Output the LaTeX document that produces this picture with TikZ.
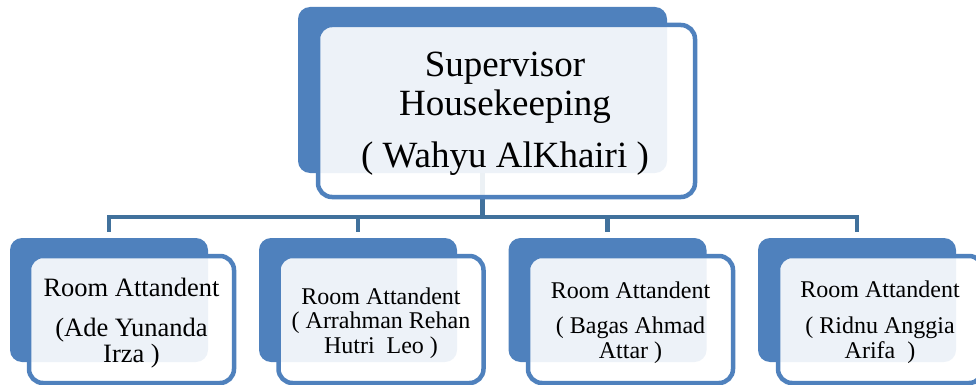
\documentclass[tikz,border=0pt]{standalone}
\usepackage{fontspec}
\setmainfont{Liberation Serif}
\definecolor{boxblue}{HTML}{4F81BD}
\definecolor{linkblue}{HTML}{41719C}
\tikzset{
    backbox/.style={fill=boxblue, rounded corners=12pt, inner sep=0pt},
    frontbox/.style={draw=boxblue, line width=4.5pt, fill=white, fill opacity=0.9, rounded corners=14pt, inner sep=0pt},
    link/.style={draw=linkblue, line width=4.5pt},
    lbl/.style={align=center, anchor=base, inner sep=0pt}
}
\begin{document}
\begin{tikzpicture}[x=1pt, y=-1pt]
    \useasboundingbox (0,0) rectangle (976,385);
    \clip (0,0) rectangle (976,385);

    % back shapes and connectors
    \node[backbox, minimum width=369pt, minimum height=166pt] (supback) at (482.5,90) {};
    \foreach \i/\cx in {1/109, 2/358, 3/607.5, 4/857} {
        \node[backbox, minimum width=198pt, minimum height=124pt] (ra\i back) at (\cx,300) {};
        \draw[link] (supback.south) -- ++(0,44) -| ([yshift=6pt]ra\i back.north);
    }

    % front shapes
    \node[frontbox, minimum width=377pt, minimum height=172pt] (supfront) at (506.5,111) {};
    \foreach \i/\cx in {1/131.5, 2/381, 3/630.5, 4/880.5}
        \node[frontbox, minimum width=205pt, minimum height=127pt] (ra\i front) at (\cx,319.5) {};

    % texts (base = last line)
    \node[lbl, font=\fontsize{37}{39}\selectfont] (suptext) at (505,167) {Supervisor\\ Housekeeping\\[13pt] ( Wahyu AlKhairi )};
    \node[lbl, font=\fontsize{26.5}{26}\selectfont] (ra1text) at (131.5,362) {Room Attandent\\[14pt] (Ade Yunanda\\ Irza )};
    \node[lbl, font=\fontsize{24}{25}\selectfont] (ra2text) at (381,353) {Room Attandent\\[-1pt] ( Arrahman Rehan\\ Hutri\ \ Leo )};
    \node[lbl, font=\fontsize{24}{25}\selectfont] (ra3text) at (630.5,358) {Room Attandent\\[10pt] ( Bagas Ahmad\\ Attar )};
    \node[lbl, font=\fontsize{24}{25}\selectfont] (ra4text) at (880,358) {Room Attandent\\[11pt] ( Ridnu Anggia\\ Arifa\ \ )};
\end{tikzpicture}
\end{document}
